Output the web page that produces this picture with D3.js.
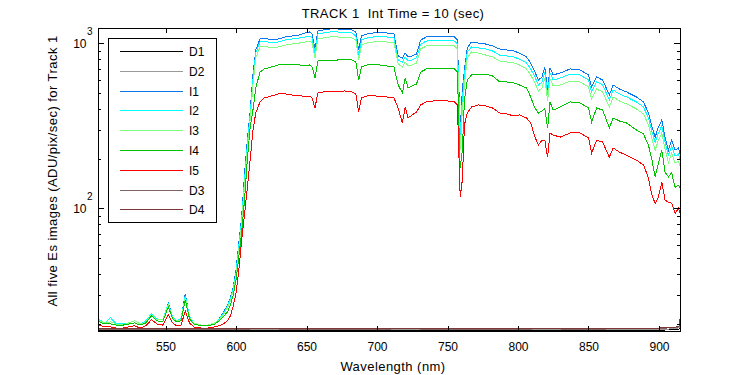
<!DOCTYPE html>
<html>
<head>
<meta charset="utf-8">
<script src="https://d3js.org/d3.v7.min.js"></script>
<style>
  body { margin: 0; background: #fff; }
  text { font-family: "Liberation Sans", Arial, sans-serif; fill: #000; }
  .label { font-size: 13px; letter-spacing: 0.45px; }
</style>
</head>
<body>
<script>
// wavelengths (nm) of the five illuminated spectra
const wavelength = [
  503, 507, 511, 515, 520, 524, 528, 532, 536, 540,
  544, 548, 552, 555, 558, 561, 564, 567, 570, 575,
  580, 585, 588, 591, 594, 596, 598, 600, 602, 604,
  606, 608, 610, 612, 614, 617, 620, 625, 630, 635,
  640, 645, 649, 652, 654, 656, 658, 662, 667, 672,
  677, 682, 685, 687, 689, 693, 697, 702, 707, 712,
  715, 718, 720, 722, 725, 728, 731, 735, 740, 745,
  750, 755, 757, 759, 760.5, 762, 764, 767, 772, 777,
  782, 787, 792, 797, 801, 806, 809, 812, 814.5, 817,
  819, 821, 822.7, 825, 830, 837, 844, 850, 852.2, 855.8,
  860, 864.8, 867.5, 872, 877, 884, 889, 892.5, 895, 897.3,
  899.6, 902, 904.3, 906.7, 909, 911.4, 913.8, 915.6
];

const i1 = [
  21.1, 20.2, 20.5, 19.9, 19.9, 20.2, 20.8, 19.9, 20.8, 22.9,
  21.4, 21.1, 26.7, 22.0, 20.8, 21.4, 30.3, 22.0, 20.2, 19.6,
  19.6, 20.2, 21.4, 23.3, 26.0, 28.6, 33.3, 42.3, 61.6, 89,
  159, 259, 383, 643, 911, 1062, 1077, 1047, 1062, 1092,
  1107, 1123, 1155, 1171, 1139, 911, 1187, 1204, 1221, 1221,
  1204, 1204, 1171, 911, 1107, 1139, 1155, 1171, 1155, 1139,
  838, 815, 873, 826, 838, 861, 1047, 1092, 1107, 1107,
  1107, 1092, 1047, 298, 521, 689, 937, 1018, 1004, 990,
  963, 924, 911, 898, 873, 826, 760, 670, 599, 625,
  718, 521, 708, 643, 661, 699, 689, 643, 544, 625,
  599, 486, 559, 528, 507, 473, 441, 378, 311, 270,
  311, 343, 270, 225, 259, 225, 232, 204
];

const i2 = [
  21.1, 20.2, 21.7, 19.9, 19.9, 20.2, 20.8, 19.9, 20.8, 22.9,
  21.4, 21.1, 26.4, 22.0, 20.8, 21.4, 29.5, 22.0, 20.2, 19.6,
  19.6, 20.2, 21.4, 22.9, 25.6, 28.3, 32.4, 40.5, 59.1, 85,
  148, 242, 368, 599, 873, 1018, 1032, 1004, 1018, 1047,
  1062, 1077, 1092, 1107, 1077, 861, 1139, 1155, 1171, 1171,
  1155, 1155, 1107, 838, 1047, 1077, 1092, 1107, 1092, 1077,
  792, 770, 826, 781, 792, 815, 990, 1032, 1047, 1047,
  1047, 1032, 990, 278, 453, 643, 886, 950, 937, 924,
  898, 849, 838, 826, 803, 760, 699, 625, 559, 583,
  670, 486, 661, 599, 616, 651, 643, 599, 507, 583,
  559, 453, 521, 493, 473, 441, 411, 353, 290, 252,
  286, 316, 252, 210, 238, 207, 213, 190
];

const i3 = [
  20.8, 20.2, 20.5, 19.9, 19.6, 20.2, 20.8, 19.9, 20.5, 22.6,
  21.1, 21.1, 26.0, 21.7, 20.8, 21.1, 28.7, 21.7, 20.2, 19.6,
  19.6, 20.2, 21.1, 22.6, 25.0, 27.5, 31.5, 38.9, 56, 80.5,
  138, 226, 343, 559, 815, 950, 963, 937, 950, 976,
  990, 1004, 1018, 1032, 1004, 815, 1062, 1077, 1092, 1092,
  1077, 1077, 1047, 792, 976, 1004, 1018, 1032, 1018, 1004,
  749, 718, 770, 729, 739, 760, 924, 963, 976, 976,
  976, 963, 924, 225, 394, 559, 815, 886, 873, 849,
  826, 781, 770, 760, 739, 699, 643, 575, 514, 536,
  616, 447, 608, 551, 559, 591, 583, 544, 460, 528,
  507, 411, 473, 447, 429, 400, 373, 320, 263, 225,
  259, 286, 228, 190, 216, 188, 193, 173
];

const i4 = [
  20.5, 19.9, 19.9, 19.6, 19.6, 19.9, 20.2, 19.6, 20.2, 22.3,
  20.8, 20.5, 25.3, 21.4, 20.5, 20.8, 27.9, 21.4, 19.9, 19.4,
  19.4, 19.9, 20.8, 22.0, 23.6, 26.0, 29.8, 36.8, 50.7, 72,
  112, 196, 307, 394, 536, 670, 699, 718, 739, 749,
  749, 739, 729, 739, 718, 616, 781, 792, 792, 792,
  803, 792, 770, 599, 718, 739, 749, 739, 729, 718,
  559, 500, 616, 536, 551, 567, 670, 699, 708, 708,
  708, 699, 670, 175, 225, 453, 599, 643, 651, 651,
  634, 583, 583, 575, 559, 536, 473, 405, 378, 389,
  405, 307, 441, 394, 411, 441, 435, 405, 334, 405,
  394, 307, 353, 338, 329, 298, 282, 242, 196, 155,
  188, 225, 166, 155, 164, 134, 138, 129
];

const i5 = [
  19.6, 19.1, 19.1, 18.8, 18.8, 19.1, 19.4, 18.8, 19.4, 21.1,
  19.9, 19.6, 22.6, 20.2, 19.4, 19.6, 23.9, 20.2, 19.1, 18.8,
  18.8, 19.1, 19.4, 19.9, 20.8, 22.3, 25.6, 30.7, 42.3, 64,
  91, 133, 196, 298, 378, 441, 466, 479, 493, 493,
  486, 486, 473, 479, 466, 405, 500, 507, 507, 507,
  514, 507, 493, 383, 466, 479, 486, 473, 473, 466,
  405, 329, 411, 353, 368, 383, 423, 441, 447, 447,
  447, 441, 423, 117, 148, 320, 378, 411, 423, 417,
  405, 378, 373, 363, 368, 353, 329, 270, 242, 259,
  259, 204, 286, 278, 270, 286, 286, 267, 216, 259,
  252, 204, 232, 219, 210, 196, 183, 153, 120, 107,
  117, 144, 112, 109, 107, 93, 100, 89
];

// dark frames, sampled more coarsely
const darkWavelength = [503, 520, 540, 560, 580, 600, 620, 640, 660, 680, 700, 720, 740, 760,
  780, 800, 820, 840, 860, 870, 880, 890, 900, 905, 910, 913, 914.5, 915.6];
const dark1 = [18.2, 18.1, 18.2, 18.2, 18.1, 18.2, 18.2, 18.1, 18.2, 18.2, 18.1, 18.2, 18.2, 18.2,
  18.1, 18.2, 18.2, 18.2, 18.1, 18.2, 18.2, 18.2, 18.2, 18.3, 18.3, 18.4, 18.6, 19.5];
const dark2 = [18.4, 18.3, 18.4, 18.4, 18.3, 18.4, 18.4, 18.4, 18.3, 18.4, 18.4, 18.4, 18.3, 18.4,
  18.4, 18.4, 18.4, 18.3, 18.4, 18.4, 18.5, 18.4, 18.5, 18.5, 18.6, 18.7, 19.0, 21.5];
const dark3 = [18.5, 18.5, 18.4, 18.5, 18.5, 18.5, 18.6, 18.5, 18.5, 18.5, 18.5, 18.6, 18.5, 18.5,
  18.5, 18.5, 18.6, 18.5, 18.5, 18.7, 18.6, 18.7, 18.7, 18.8, 18.9, 19.0, 19.3, 24.0];
const dark4 = [18.6, 18.6, 18.6, 18.6, 18.7, 18.6, 18.6, 18.6, 18.6, 18.7, 18.6, 18.6, 18.6, 18.7,
  18.6, 18.6, 18.6, 18.6, 18.7, 18.8, 18.7, 18.8, 18.8, 18.9, 19.0, 19.1, 19.4, 25.0];

const seriesNames = ["D1", "D2", "I1", "I2", "I3", "I4", "I5", "D3", "D4"];
const xTicks = [550, 600, 650, 700, 750, 800, 850, 900];
const yMajor = [100, 1000];
const yMinor = [20, 30, 40, 50, 60, 70, 80, 90, 200, 300, 400, 500, 600, 700, 800, 900];

const colors = {
  D1: "#000000", D2: "#999999", I1: "#0a78ec", I2: "#00ffff", I3: "#80ff80",
  I4: "#00c400", I5: "#ff0000", D3: "#806464", D4: "#7d3838"
};

const series = [
  { name: "D1", wl: darkWavelength, v: dark1 },
  { name: "D2", wl: darkWavelength, v: dark2 },
  { name: "I1", wl: wavelength, v: i1 },
  { name: "I2", wl: wavelength, v: i2 },
  { name: "I3", wl: wavelength, v: i3 },
  { name: "I4", wl: wavelength, v: i4 },
  { name: "I5", wl: wavelength, v: i5 },
  { name: "D3", wl: darkWavelength, v: dark3 },
  { name: "D4", wl: darkWavelength, v: dark4 }
];

const margin = { top: 28, left: 98 };
const width = 582;
const height = 303;

const svg = d3.select("body").append("svg")
  .attr("width", 750)
  .attr("height", 375);

const g = svg.append("g")
  .attr("transform", "translate(" + margin.left + "," + margin.top + ")");

const x = d3.scaleLinear().domain([502.1, 914.9]).range([0, width]);
const y = d3.scaleLog().domain([18.04, 1238]).range([height, 0]);

g.append("clipPath").attr("id", "clip")
  .append("rect").attr("width", width).attr("height", height);

// curves
const line = d3.line().x(d => x(d[0])).y(d => y(d[1]));
g.append("g").attr("clip-path", "url(#clip)")
  .selectAll("path")
  .data(series)
  .enter().append("path")
  .attr("d", s => line(d3.zip(s.wl, s.v)))
  .attr("fill", "none")
  .attr("stroke", s => colors[s.name])
  .attr("stroke-width", 1)
  .attr("shape-rendering", "crispEdges");

// ticks pointing inward on all four sides
function styleAxis(sel) {
  sel.select(".domain").remove();
  sel.selectAll("line").attr("stroke", "#000").attr("shape-rendering", "crispEdges");
}

g.append("g")
  .attr("transform", "translate(0," + height + ")")
  .call(d3.axisBottom(x).tickValues(xTicks).tickSize(-5).tickPadding(11).tickFormat(d3.format("d")))
  .call(styleAxis)
  .selectAll("text").style("font-size", "12px").style("font-family", "Liberation Sans, Arial, sans-serif");

g.append("g")
  .call(d3.axisTop(x).tickValues(xTicks).tickSize(-5).tickFormat(""))
  .call(styleAxis);

g.append("g")
  .call(d3.axisLeft(y).tickValues(yMinor).tickSize(-3).tickFormat(""))
  .call(styleAxis);
g.append("g")
  .call(d3.axisLeft(y).tickValues(yMajor).tickSize(-6).tickFormat(""))
  .call(styleAxis);
g.append("g")
  .attr("transform", "translate(" + width + ",0)")
  .call(d3.axisRight(y).tickValues(yMinor).tickSize(-3).tickFormat(""))
  .call(styleAxis);
g.append("g")
  .attr("transform", "translate(" + width + ",0)")
  .call(d3.axisRight(y).tickValues(yMajor).tickSize(-6).tickFormat(""))
  .call(styleAxis);

// y labels as 10 with exponent
yMajor.forEach(v => {
  g.append("text")
    .attr("x", -11.5).attr("y", y(v) + 5)
    .attr("text-anchor", "end")
    .style("font-size", "12px")
    .text("10");
  g.append("text")
    .attr("x", -11).attr("y", y(v) - 8)
    .style("font-size", "10px")
    .text(Math.round(Math.log10(v)));
});

// frame
g.append("rect")
  .attr("width", width).attr("height", height)
  .attr("fill", "none").attr("stroke", "#000")
  .attr("shape-rendering", "crispEdges");

// legend
const legend = svg.append("g");
legend.append("rect")
  .attr("x", 108).attr("y", 38).attr("width", 108).attr("height", 184)
  .attr("fill", "#fff").attr("stroke", "#000")
  .attr("shape-rendering", "crispEdges");
seriesNames.forEach((name, i) => {
  const ly = 51.5 + i * 19.8;
  legend.append("line")
    .attr("x1", 120).attr("x2", 183).attr("y1", ly).attr("y2", ly)
    .attr("stroke", colors[name])
    .attr("shape-rendering", "crispEdges");
  legend.append("text")
    .attr("x", 189).attr("y", ly + 4.5)
    .style("font-size", "12px")
    .text(name);
});

// titles
svg.append("text")
  .attr("class", "label")
  .attr("x", 393).attr("y", 18)
  .attr("text-anchor", "middle")
  .text("TRACK 1\u00a0 Int Time = 10 (sec)");

svg.append("text")
  .attr("class", "label")
  .attr("x", 393).attr("y", 371)
  .attr("text-anchor", "middle")
  .text("Wavelength (nm)");

svg.append("text")
  .attr("class", "label")
  .attr("transform", "translate(57,171) rotate(-90)")
  .attr("text-anchor", "middle")
  .text("All five Es images (ADU/pix/sec) for Track 1");
</script>
</body>
</html>
